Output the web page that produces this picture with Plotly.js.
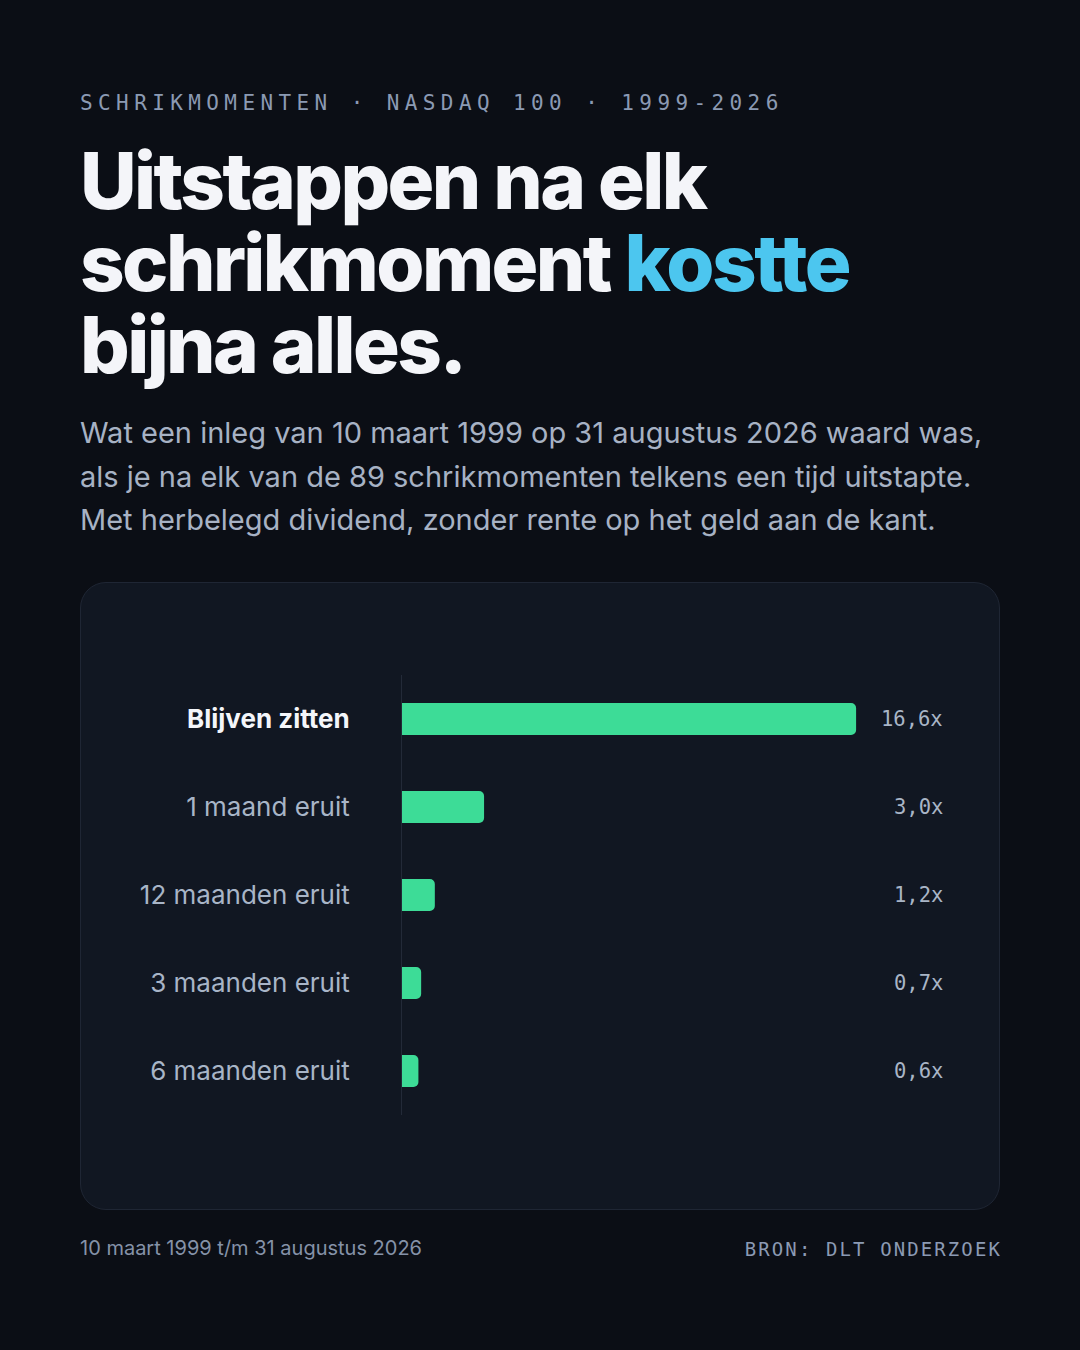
<!DOCTYPE html>
<html>
<head>
<meta charset="utf-8">
<script src="https://cdn.plot.ly/plotly-3.0.1.min.js"></script>
<style>
  html, body { margin:0; padding:0; background:#0b0e15; }
  #page { position:relative; width:1080px; height:1350px; background:#0b0e15; overflow:hidden; font-family:Inter, sans-serif; }
  .kicker { position:absolute; left:80px; top:91px; font-family:"DejaVu Sans Mono", monospace; font-size:21px; letter-spacing:5.4px; color:#8b9ab3; white-space:nowrap; }
  .title { position:absolute; left:80px; top:140px; font-family:Inter, sans-serif; font-weight:800; font-size:78px; line-height:82px; letter-spacing:-2.6px; color:#f4f5f9; white-space:nowrap; }
  .title .hl { color:#4cc6ef; }
  .sub { position:absolute; left:80px; top:411px; font-size:29px; line-height:43.5px; color:#a7b2c4; white-space:nowrap; }
  .card { position:absolute; left:80px; top:582px; width:918px; height:626px; background:#111722; border:1px solid #1f2634; border-radius:26px; }
  .foot-l { position:absolute; left:80px; top:1236px; font-size:20px; color:#8592a8; white-space:nowrap; }
  .foot-r { position:absolute; right:80px; top:1238px; font-family:"DejaVu Sans Mono", monospace; font-size:19px; letter-spacing:2.1px; margin-right:-2px; color:#8b9ab3; white-space:nowrap; }
  #chart { position:absolute; left:0; top:0; width:1080px; height:1350px; }
</style>
</head>
<body>
<div id="page">
  <div class="kicker">SCHRIKMOMENTEN · NASDAQ 100 · 1999-2026</div>
  <div class="title">Uitstappen na elk<br>schrikmoment <span class="hl">kostte</span><br>bijna alles.</div>
  <div class="sub">Wat een inleg van 10 maart 1999 op 31 augustus 2026 waard was,<br>als je na elk van de 89 schrikmomenten telkens een tijd uitstapte.<br>Met herbelegd dividend, zonder rente op het geld aan de kant.</div>
  <div class="card"></div>
  <div id="chart"></div>
  <div class="foot-l">10 maart 1999 t/m 31 augustus 2026</div>
  <div class="foot-r">BRON: DLT ONDERZOEK</div>
</div>
<script>
const categories = ["Blijven zitten", "1 maand eruit", "12 maanden eruit", "3 maanden eruit", "6 maanden eruit"];
const multiples = [16.6, 3.0, 1.2, 0.7, 0.6];
const valueLabels = ["16,6x", "3,0x", "1,2x", "0,7x", "0,6x"];

const tickText = categories.map((c, i) => i === 0
  ? '<b><span style="color:#f4f6fa">' + c + '</span></b>'
  : c);

const trace = {
  type: 'bar',
  orientation: 'h',
  x: multiples,
  y: categories,
  marker: { color: '#3ddc97', cornerradius: 5 },
  hoverinfo: 'none'
};

const annotations = categories.map((c, i) => ({
  xref: 'paper', yref: 'y', x: 1, y: c,
  xanchor: 'right', yanchor: 'middle', xshift: 3,
  text: valueLabels[i], showarrow: false,
  font: { family: 'DejaVu Sans Mono, monospace', size: 20.5, color: '#a9b5c6' }
}));

const layout = {
  width: 1080, height: 1350,
  paper_bgcolor: 'rgba(0,0,0,0)',
  plot_bgcolor: 'rgba(0,0,0,0)',
  margin: { l: 402, r: 138, t: 675, b: 235, pad: 0 },
  bargap: 0.636,
  showlegend: false,
  xaxis: { range: [0, 19.74], showgrid: false, zeroline: false, showticklabels: false, showline: false, fixedrange: true },
  yaxis: {
    autorange: 'reversed',
    type: 'category',
    tickmode: 'array', tickvals: categories, ticktext: tickText,
    showgrid: false, zeroline: false,
    showline: true, linecolor: '#232a38', linewidth: 1,
    ticks: '', ticklabelstandoff: 46,
    tickfont: { family: 'Inter, sans-serif', size: 26, color: '#a8b5c7' },
    fixedrange: true
  },
  annotations: annotations
};

Plotly.newPlot('chart', [trace], layout, { displayModeBar: false, staticPlot: true });
</script>
</body>
</html>
